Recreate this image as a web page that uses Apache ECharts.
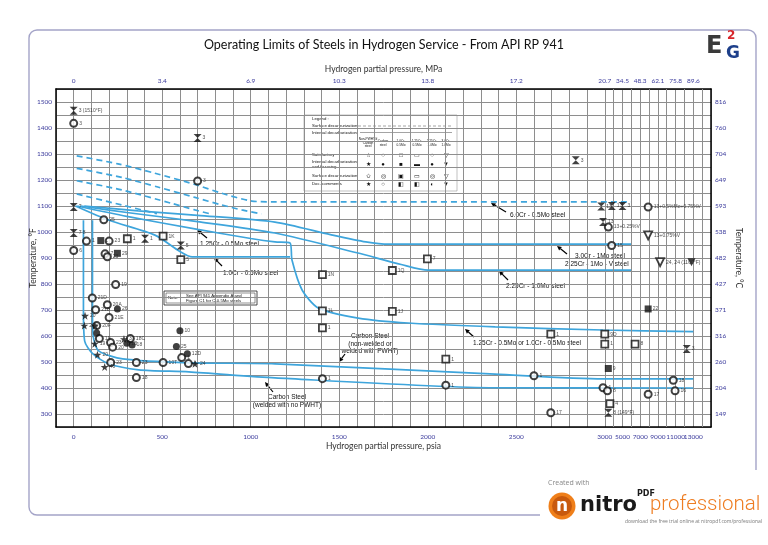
<!DOCTYPE html>
<html>
<head>
<meta charset="utf-8">
<script src="https://cdn.jsdelivr.net/npm/echarts@6/dist/echarts.min.js"></script>
<style>
html, body { margin: 0; padding: 0; background: #fff; }
#chart { width: 768px; height: 545px; }
</style>
</head>
<body>
<div id="chart"></div>
<script>
// ============================================================================
// Data
// ============================================================================

// axis ticks (psi is stretched up to 3000, compressed above)
const psiTicks = [0, 500, 1000, 1500, 2000, 2500, 3000, 5000, 7000, 9000, 11000, 13000]
const mpaTicks = ['0', '3.4', '6.9', '10.3', '13.8', '17.2', '20.7', '34.5', '48.3', '62.1', '75.8', '89.6']
const extraGridPsi = [4000, 6000, 8000, 10000, 12000, 14000]
const fTicks = [300, 400, 500, 600, 700, 800, 900, 1000, 1100, 1200, 1300, 1400, 1500]
const cTicks = ['149', '204', '260', '316', '371', '427', '482', '538', '593', '649', '704', '760', '816']

// surface decarburization (dashed), [psi, degF]
const dashA = [[17, 1293], [250, 1262], [459, 1226], [685, 1183], [836, 1149], [1006, 1119], [1137, 1116], [6000, 1116]]
const dashB = [[17, 1245], [271, 1210], [480, 1172], [685, 1133], [836, 1104], [949, 1085], [1060, 1070]]
const dashC = [[17, 1197], [271, 1162], [554, 1110], [685, 1085], [780, 1068]]
const dashD = [[17, 1146], [271, 1104], [384, 1085], [470, 1070]]

// internal decarburization and fissuring (solid), [psi, degF]
const cr3Mo1 = [[60, 1100], [364, 1081], [700, 1064], [1137, 1038], [1450, 990], [1650, 962], [1780, 953], [6000, 953]]
const cr225Mo1 = [[40, 1100], [300, 1075], [700, 1040], [1137, 996], [1600, 920], [1850, 875], [2002, 853], [6000, 853]]
const cr125Mo05 = [[20, 1100], [300, 1060], [700, 1010], [1000, 975], [1137, 962], [1222, 958], [1233, 892], [1290, 777], [1381, 708], [1607, 669], [1889, 650], [2381, 635], [2990, 623], [13000, 617]]
const cr1Mo05 = [[10, 1100], [200, 1045], [459, 988], [600, 925], [669, 904], [1222, 904]]
const csNonWelded = [[106, 1045], [106, 700], [110, 600], [141, 543], [277, 512], [650, 497], [1137, 493], [2381, 453], [2990, 435], [13000, 435]]
const csWelded = [[55, 1045], [55, 700], [62, 580], [107, 532], [198, 493], [367, 470], [650, 462], [1137, 439], [2381, 401], [13000, 400]]

// test data points, [psi, degF, label]
const openCircles = [
  [0, 1418, '3'], [700, 1196, '3'], [170, 1047, '25'], [72, 965, '1'], [200, 965, '23'],
  [0, 929, '6'], [177, 916, '7'], [190, 905, '23'], [237, 798, '19'], [105, 746, '21D'],
  [190, 720, '20A'], [124, 701, '21B'], [200, 671, '21E'], [130, 640, '20F'], [145, 590, '19'],
  [208, 575, '23'], [209, 498, '23'], [354, 498, '23'], [354, 440, '18'], [505, 498, '10T'],
  [610, 517, '1'], [648, 494, '1'], [1405, 436, '1'], [2102, 411, '1'], [2600, 447, '1'],
  [2990, 401, '1'], [3300, 389, '8'], [7900, 376, '17'], [10740, 430, '18'], [10940, 389, '16'],
  [2695, 305, '17'], [220, 557, '20'], [320, 590, '18C'], [3400, 1019, '13+0.25%V'],
  [7900, 1096, '13+0.5%Mo+0.75%V'], [3780, 948, '15']
]
const filledCircles = [
  [247, 704, '26'], [130, 612, ''], [330, 565, '18'], [580, 560, '25'], [600, 620, '10'],
  [642, 532, '12D'], [300, 572, '1B']
]
const openSquares = [
  [303, 974, '1'], [505, 984, '1K'], [605, 894, '5'], [1405, 836, '1N'], [1800, 852, '1Q'],
  [1998, 897, '7'], [1405, 697, '1L'], [1800, 695, '1J'], [1405, 631, '1'], [2102, 511, '1'],
  [2695, 607, '1'], [3000, 607, '9D'], [3000, 569, '1'], [6420, 569, '8'], [3580, 340, '4']
]
const filledSquares = [[153, 967, '1'], [247, 918, '29'], [7900, 704, '22'], [3400, 475, '9']]
const hourglasses = [
  [0, 1466, '3 (1510°F)'], [700, 1362, '3'], [0, 1096, '7'], [2836, 1276, '3'], [0, 996, '7 8'],
  [403, 974, '1'], [605, 948, '5'], [2980, 1098, '13'], [3800, 1100, '13'], [5000, 1100, '3'],
  [2990, 1038, '13'], [12260, 550, '3'], [3400, 305, '8 (149°F)']
]
const openTriangles = [[7900, 987, '13+0.75%V'], [9250, 884, '24, 24 (1100°F)']]
const filledTriangles = [[12800, 884, '']]
const stars = [[64, 678, '20'], [60, 640, '20a'], [120, 640, ''], [284, 588, '37'], [119, 570, '19'], [134, 528, '20'], [685, 493, '24'], [175, 481, '40']]

// ============================================================================
// Helpers
// ============================================================================

const curveColor = '#3ea5dc'
const tickColor = '#3b3b9c'
const gridColor = '#8e8e8e'

function toAxis(p) {
    return p <= 3000 ? p : 3000 + (p - 3000) / 20
}

function curveSeries(name, pts, dashed) {
    return {
        name: name,
        type: 'line',
        data: pts.map(([p, t]) => [toAxis(p), t]),
        showSymbol: false,
        smooth: 0.25,
        silent: true,
        lineStyle: {color: curveColor, width: 1.7, type: dashed ? [6, 4] : 'solid'},
        z: 3
    }
}

function markerSeries(name, pts, symbol, size, itemStyle) {
    return {
        name: name,
        type: 'scatter',
        symbol: symbol,
        symbolSize: size,
        data: pts.map(([p, t, l]) => ({value: [toAxis(p), t], name: l})),
        itemStyle: itemStyle,
        label: {
            show: true, position: 'right', distance: 1,
            fontSize: 5, color: '#222', fontFamily: 'Liberation Sans',
            formatter: d => d.data.name
        },
        z: 5
    }
}

function tickFormatter(labels) {
    return v => {
        const i = psiTicks.findIndex(p => Math.abs(toAxis(p) - v) < 1e-6)
        return i < 0 ? '' : String(labels[i])
    }
}

function tempFormatter(labels) {
    return v => {
        const i = fTicks.indexOf(v)
        return i < 0 ? '' : String(labels[i])
    }
}

function arrow(x1, y1, x2, y2) {
    const a = Math.atan2(y2 - y1, x2 - x1)
    const h = 4.5, w = 2.2
    const bx = x2 - h * Math.cos(a), by = y2 - h * Math.sin(a)
    return [
        {type: 'line', shape: {x1: x1, y1: y1, x2: bx, y2: by}, style: {stroke: '#000', lineWidth: 1.2}},
        {type: 'polygon', shape: {points: [[x2, y2],
            [bx + w * Math.sin(a), by - w * Math.cos(a)],
            [bx - w * Math.sin(a), by + w * Math.cos(a)]]}, style: {fill: '#000'}}
    ]
}

function note(x, y, text, size, extra) {
    return {type: 'text', x: x, y: y, style: Object.assign({
        text: text, fontSize: size || 6.5, fontFamily: 'Liberation Sans', fill: '#111',
        verticalAlign: 'middle'}, extra || {})}
}

// ============================================================================
// Chart
// ============================================================================

const chart = echarts.init(document.getElementById('chart'))

const axisBase = {
    type: 'value', min: -100, max: 3600, interval: 100,
    axisTick: {show: false},
    axisLine: {show: true, onZero: false, lineStyle: {color: '#000', width: 1.5}},
    nameLocation: 'middle',
    nameMoveOverlap: false,
    nameTextStyle: {fontFamily: 'Lato', fontSize: 8.5, color: '#333'}
}
const yBase = {
    type: 'value', min: 250, max: 1550, interval: 50,
    axisTick: {show: false},
    axisLine: {show: true, onZero: false, lineStyle: {color: '#000', width: 1.5}},
    nameLocation: 'middle',
    nameMoveOverlap: false,
    nameTextStyle: {fontFamily: 'Lato', fontSize: 8.5, color: '#333'}
}
const labelBase = {fontFamily: 'Lato', fontSize: 6.5, color: tickColor}

// legend table inside the plot
const legendG = [
    {type: 'rect', shape: {x: 304, y: 115, width: 153, height: 76}, style: {fill: '#fff', stroke: '#999', lineWidth: 0.6}},
    note(312, 119, 'Legend :', 4.3),
    note(312, 126, 'Surface decarburization', 4.3),
    {type: 'line', shape: {x1: 358, y1: 126, x2: 452, y2: 126}, style: {stroke: '#666', lineWidth: 0.6, lineDash: [3, 2]}},
    note(312, 132.5, 'Internal decarburization', 4.3),
    {type: 'line', shape: {x1: 360, y1: 132.5, x2: 452, y2: 132.5}, style: {stroke: '#666', lineWidth: 0.6}},
    note(312, 155, 'Satisfactory', 4.3),
    note(312, 162, 'Internal decarburization', 4.3),
    note(312, 166.5, 'and fissuring', 4.3),
    note(312, 176, 'Surface decarburization', 4.3),
    note(312, 184, 'Doc. comments', 4.3)
]
const legendCols = ['Non-PWHT\'d\nCarbon\nsteel', 'Carbon\nsteel', '1.0Cr-\n0.5Mo', '1.25Cr-\n0.5Mo', '2.25Cr-\n1.0Mo', '3.0Cr-\n1.0Mo']
const legendX = [368, 383, 401, 417, 432, 446]
legendCols.forEach((c, i) => {
    legendG.push(note(legendX[i], 143, c, 3.2, {align: 'center', lineHeight: 3.6}))
    legendG.push(note(legendX[i], 155, ['☆', '○', '□', '▭', '○', '▽'][i], 6, {align: 'center'}))
    legendG.push(note(legendX[i], 164, ['★', '●', '■', '▬', '●', '▼'][i], 6, {align: 'center'}))
    legendG.push(note(legendX[i], 176, ['✩', '◎', '▣', '▭', '◎', '▽'][i], 6, {align: 'center'}))
    legendG.push(note(legendX[i], 184, ['★', '○', '◧', '◧', '◐', '▼'][i], 6, {align: 'center'}))
})

const annotations = [].concat(
    [note(510, 215, '6.0Cr - 0.5Mo steel')], arrow(506, 212, 491, 203),
    [note(575, 256, '3.0Cr - 1Mo steel'), note(565, 264, '2.25Cr - 1Mo - V steel')], arrow(567, 254, 557, 246),
    [note(506, 286, '2.25Cr - 1.0Mo steel')], arrow(508, 280, 499, 271),
    [note(473, 343, '1.25Cr - 0.5Mo or 1.0Cr - 0.5Mo steel')], arrow(474, 337, 465, 329),
    [note(200, 244, '1.25Cr - 0.5Mo steel')], arrow(207, 238, 197, 230),
    [note(223, 273, '1.0Cr - 0.5Mo steel')], arrow(222, 266, 214, 258),
    [note(370, 344, 'Carbon Steel\n(non-welded or\nwelded with PWHT)', 6.5, {align: 'center', lineHeight: 7.5})], arrow(345, 354, 339, 362),
    [note(287, 401, 'Carbon Steel\n(welded with no PWHT)', 6.5, {align: 'center', lineHeight: 7.5})], arrow(273, 392, 265, 382),
    [
        {type: 'rect', shape: {x: 164, y: 291, width: 93, height: 14}, style: {fill: '#fff', stroke: '#222', lineWidth: 0.8}},
        {type: 'rect', shape: {x: 166, y: 293, width: 89, height: 10}, style: {fill: 'none', stroke: '#222', lineWidth: 0.5}},
        note(168, 298, 'Note:', 4.3),
        note(186, 295.5, 'See API 941 Appendix A and', 4.3),
        note(186, 300.5, 'Figure C1 for C-0.5Mo steels', 4.3)
    ]
)

const pageG = [
    {type: 'rect', shape: {x: 29, y: 30, width: 727, height: 485, r: 8}, style: {fill: 'none', stroke: '#a4a4c8', lineWidth: 1.4}, z: -10},
    {type: 'rect', shape: {x: 540, y: 470, width: 228, height: 75}, style: {fill: '#fff'}, z: -5},
    {type: 'text', x: 384, y: 45, style: {text: 'Operating Limits of Steels in Hydrogen Service - From API RP 941',
        fontFamily: 'Lato', fontSize: 12.5, fill: '#111', align: 'center', verticalAlign: 'middle'}},
    // E2G logo
    {type: 'text', x: 706, y: 47, style: {text: 'E', fontFamily: 'DejaVu Sans', fontWeight: 'bold', fontSize: 24, fill: '#3a3a3a', verticalAlign: 'middle'}},
    {type: 'text', x: 727, y: 36, style: {text: '2', fontFamily: 'DejaVu Sans', fontWeight: 'bold', fontSize: 12, fill: '#d7262b', verticalAlign: 'middle'}},
    {type: 'text', x: 726, y: 54, style: {text: 'G', fontFamily: 'DejaVu Sans', fontWeight: 'bold', fontSize: 17, fill: '#1d3f8a', verticalAlign: 'middle'}},
    // nitro logo
    {type: 'text', x: 548, y: 483, style: {text: 'Created with', fontFamily: 'Open Sans', fontSize: 7, fill: '#888', verticalAlign: 'middle'}},
    {type: 'circle', shape: {cx: 562, cy: 506, r: 13.5}, style: {fill: '#ef7f1a'}},
    {type: 'circle', shape: {cx: 562, cy: 506, r: 10}, style: {fill: '#c85a0e'}},
    {type: 'text', x: 562, y: 507, style: {text: 'n', fontFamily: 'DejaVu Sans', fontWeight: 'bold', fontSize: 17, fill: '#fff', align: 'center', verticalAlign: 'middle'}},
    {type: 'text', x: 580, y: 506, style: {text: 'nitro', fontFamily: 'DejaVu Sans', fontWeight: 'bold', fontSize: 21, fill: '#1a1a1a', verticalAlign: 'middle'}},
    {type: 'text', x: 637, y: 494, style: {text: 'PDF', fontFamily: 'DejaVu Sans', fontWeight: 'bold', fontSize: 8, fill: '#1a1a1a', verticalAlign: 'middle'}},
    {type: 'text', x: 650, y: 505, style: {text: 'professional', fontFamily: 'Roboto', fontWeight: 300, fontSize: 20.5, fill: '#ee7d22', verticalAlign: 'middle'}},
    {type: 'text', x: 762, y: 522, style: {text: 'download the free trial online at nitropdf.com/professional', fontFamily: 'Open Sans', fontSize: 5, fill: '#777', align: 'right', verticalAlign: 'middle'}}
]

const option = {
    backgroundColor: '#fff',
    animation: false,
    grid: {left: 56, right: 57, top: 89, bottom: 118},
    xAxis: [
        {...axisBase, position: 'bottom', name: 'Hydrogen partial pressure, psia', nameGap: 15,
            splitLine: {show: true, lineStyle: {color: gridColor, width: 1}},
            axisLabel: {...labelBase, margin: 6, formatter: tickFormatter(psiTicks)}},
        {...axisBase, position: 'top', name: 'Hydrogen partial pressure, MPa', nameGap: 15,
            splitLine: {show: false},
            axisLabel: {...labelBase, margin: 5, formatter: tickFormatter(mpaTicks)}}
    ],
    yAxis: [
        {...yBase, position: 'left', name: 'Temperature, °F', nameGap: 18,
            splitLine: {show: true, lineStyle: {color: gridColor, width: 1}},
            axisLabel: {...labelBase, margin: 4, formatter: tempFormatter(fTicks)}},
        {...yBase, position: 'right', name: 'Temperature, °C', nameGap: 23, nameRotate: -90,
            splitLine: {show: false},
            axisLabel: {...labelBase, margin: 4, formatter: tempFormatter(cTicks)}}
    ],
    series: [
        {
            type: 'line', data: [], silent: true,
            markLine: {
                silent: true, symbol: ['none', 'none'], label: {show: false},
                lineStyle: {color: gridColor, width: 1, type: 'solid'},
                data: extraGridPsi.map(p => ({xAxis: toAxis(p)}))
            }
        },
        curveSeries('dashA', dashA, true),
        curveSeries('dashB', dashB, true),
        curveSeries('dashC', dashC, true),
        curveSeries('dashD', dashD, true),
        curveSeries('3.0Cr-1Mo', cr3Mo1),
        curveSeries('2.25Cr-1Mo', cr225Mo1),
        curveSeries('1.25Cr-0.5Mo', cr125Mo05),
        curveSeries('1.0Cr-0.5Mo', cr1Mo05),
        curveSeries('CS non-welded', csNonWelded),
        curveSeries('CS welded', csWelded),
        markerSeries('openCircles', openCircles, 'circle', 7, {color: '#fff', borderColor: '#111', borderWidth: 2}),
        markerSeries('filledCircles', filledCircles, 'circle', 7, {color: '#111'}),
        markerSeries('openSquares', openSquares, 'rect', 7, {color: '#fff', borderColor: '#111', borderWidth: 1.8}),
        markerSeries('filledSquares', filledSquares, 'rect', 7, {color: '#111'}),
        markerSeries('hourglasses', hourglasses, 'path://M0,0 L10,0 L5,5 L10,10 L0,10 L5,5 Z', 8, {color: '#111'}),
        markerSeries('openTriangles', openTriangles, 'path://M0,0 L10,0 L5,9 Z', 8, {color: '#fff', borderColor: '#111', borderWidth: 1.8}),
        markerSeries('filledTriangles', filledTriangles, 'path://M0,0 L10,0 L5,9 Z', 8, {color: '#111'}),
        markerSeries('stars', stars, 'path://M5,0 L6.2,3.6 L10,3.6 L7,5.9 L8.1,9.5 L5,7.3 L1.9,9.5 L3,5.9 L0,3.6 L3.8,3.6 Z', 8, {color: '#111'})
    ],
    graphic: {elements: [...pageG, ...legendG, ...annotations]}
}

chart.setOption(option)
</script>
</body>
</html>
